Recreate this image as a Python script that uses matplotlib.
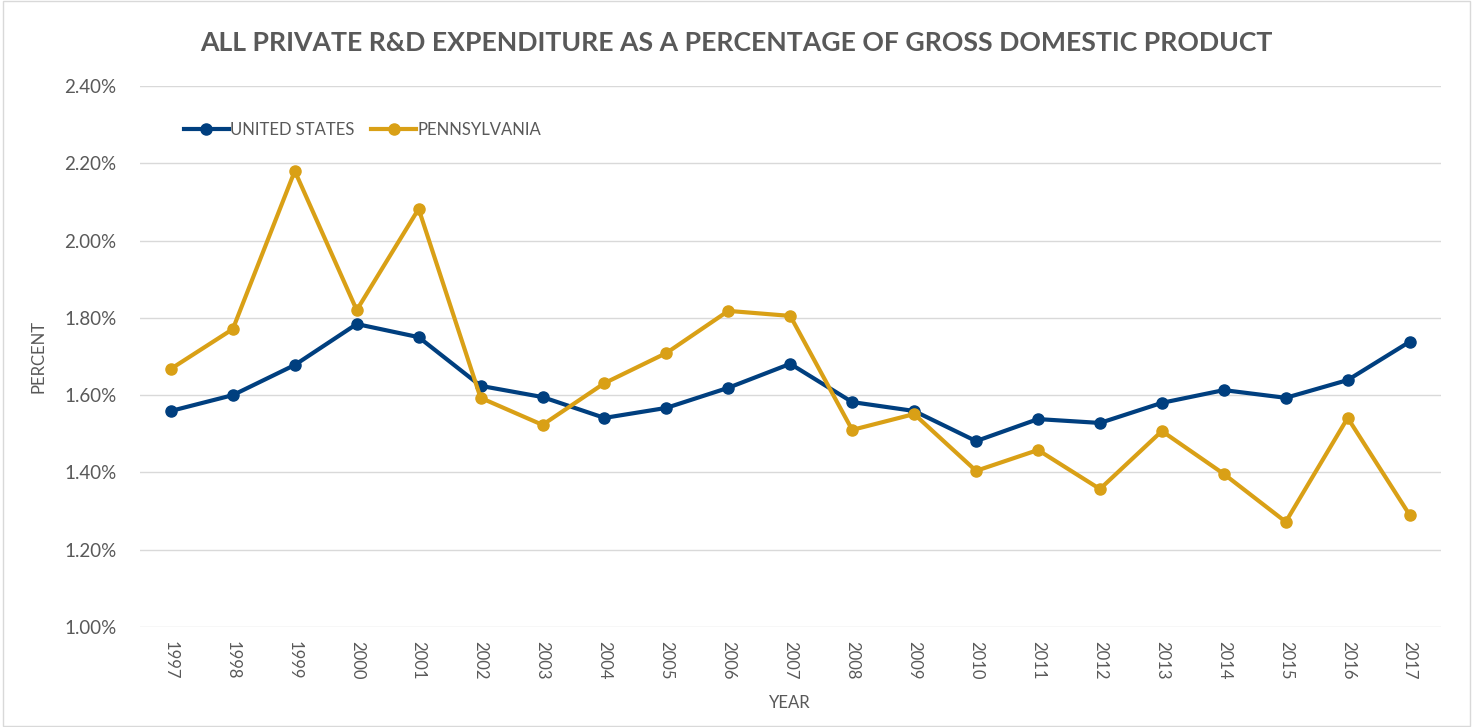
import matplotlib
matplotlib.use("Agg")
import matplotlib.pyplot as plt
from matplotlib.ticker import FuncFormatter

plt.rcParams['font.family'] = ['Lato', 'DejaVu Sans']

years = [str(y) for y in range(1997, 2018)]
us = [1.559, 1.600, 1.678, 1.784, 1.750, 1.624, 1.595, 1.541, 1.567, 1.619, 1.681,
      1.582, 1.559, 1.481, 1.538, 1.528, 1.580, 1.613, 1.593, 1.639, 1.738]
pa = [1.668, 1.771, 2.180, 1.820, 2.082, 1.593, 1.523, 1.631, 1.709, 1.818, 1.805,
      1.510, 1.551, 1.404, 1.458, 1.357, 1.507, 1.396, 1.272, 1.541, 1.290]

navy = '#003f7f'
gold = '#d9a016'
txt = '#595959'

fig = plt.figure(figsize=(14.73, 7.27), dpi=100)
ax = fig.add_axes([0.095, 0.1376, 0.883, 0.7441])

x = list(range(len(years)))
ax.plot(x, us, color=navy, lw=3, marker='o', ms=8, label='UNITED STATES', zorder=3)
ax.plot(x, pa, color=gold, lw=3, marker='o', ms=8, label='PENNSYLVANIA', zorder=3)

ax.set_xlim(-0.5, len(years) - 0.5)
ax.set_ylim(1.0, 2.4)
ax.set_yticks([1.0 + 0.2 * i for i in range(8)])
ax.yaxis.set_major_formatter(FuncFormatter(lambda v, p: f'{v:.2f}%'))
ax.set_xticks(x)
ax.set_xticklabels(years, rotation=-90)
ax.grid(axis='y', color='#d9d9d9', lw=1)
ax.set_axisbelow(True)
for s in ax.spines.values():
    s.set_visible(False)
ax.tick_params(length=0, labelsize=12, colors=txt, pad=10)
ax.tick_params(axis='y', labelsize=13.5, pad=17)

ax.set_xlabel('YEAR', fontsize=12, color=txt, labelpad=11)
ax.set_ylabel('PERCENT', fontsize=12, color=txt, labelpad=13)

fig.suptitle('ALL PRIVATE R&D EXPENDITURE AS A PERCENTAGE OF GROSS DOMESTIC PRODUCT',
             x=0.5, y=0.957, fontsize=19.2, fontweight='bold', color=txt)

leg = ax.legend(loc='upper left', bbox_to_anchor=(0.022, 0.962), ncol=2, frameon=False,
                fontsize=12, handlelength=2.7, handletextpad=0.1, columnspacing=1.0)
for t in leg.get_texts():
    t.set_color(txt)

fig.patches.append(plt.Rectangle((0.002, 0.002), 0.996, 0.996, transform=fig.transFigure,
                                 fill=False, edgecolor='#d9d9d9', lw=1))

fig.savefig('out.png', dpi=100)
